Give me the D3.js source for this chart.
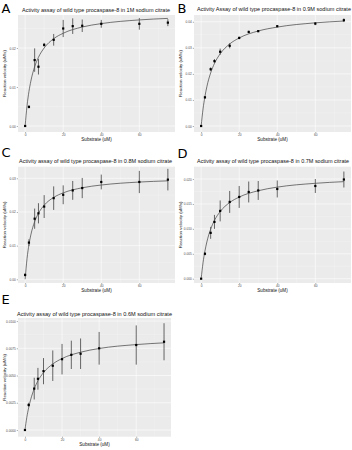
<!DOCTYPE html>
<html>
<head>
<meta charset="utf-8">
<script src="https://cdn.jsdelivr.net/npm/d3@7"></script>
<style>
  body { margin: 0; background: #fff; }
  svg { display: block; font-family: "Liberation Sans", Arial, sans-serif; }
</style>
</head>
<body>
<svg id="chart" width="352" height="450"></svg>
<script>
// substrate concentrations (uM) used in every assay
var substrate = [0, 2, 5, 7, 10, 15, 20, 25, 30, 40, 60, 75];

// mean reaction velocity (uM/s) and error bar half-widths, one pair per panel
var velocityA = [0, 0.0049, 0.0169, 0.0152, 0.0208, 0.0221, 0.0250, 0.0256, 0.0257, 0.0262, 0.0262, 0.0265];
var errorA    = [0, 0.0004, 0.0030, 0.0020, 0.0005, 0.0015, 0.0022, 0.0020, 0.0016, 0.0010, 0.0015, 0.0009];
var velocityB = [0, 0.0110, 0.0218, 0.0249, 0.0285, 0.0308, 0.0338, 0.0361, 0.0364, 0.0383, 0.0393, 0.0406];
var errorB    = [0, 0.0005, 0.0007, 0.0008, 0.0012, 0.0010, 0.0005, 0.0005, 0.0004, 0.0004, 0.0006, 0.0007];
var velocityC = [0.0013, 0.0109, 0.0180, 0.0196, 0.0216, 0.0241, 0.0251, 0.0264, 0.0271, 0.0289, 0.0289, 0.0296];
var errorC    = [0.0005, 0.0010, 0.0030, 0.0030, 0.0034, 0.0035, 0.0028, 0.0028, 0.0030, 0.0022, 0.0033, 0.0032];
var velocityD = [0, 0.0050, 0.0092, 0.0114, 0.0136, 0.0154, 0.0164, 0.0174, 0.0177, 0.0180, 0.0186, 0.0199];
var errorD    = [0, 0.0003, 0.0012, 0.0014, 0.0021, 0.0022, 0.0022, 0.0021, 0.0019, 0.0017, 0.0014, 0.0016];
var velocityE = [0, 0.0023, 0.0038, 0.0047, 0.0054, 0.0059, 0.0065, 0.0069, 0.0070, 0.0075, 0.0078, 0.0081];
var errorE    = [0, 0.0002, 0.0010, 0.0010, 0.0012, 0.0014, 0.0014, 0.0013, 0.0014, 0.0015, 0.0018, 0.0017];

// fitted curves
var fitSubstrate = [0, 1, 2, 3, 5, 7, 10, 15, 20, 30, 40, 60, 75];
var fitA = [0, 0.00520, 0.00883, 0.01150, 0.01520, 0.01762, 0.02001, 0.02238, 0.02378, 0.02538, 0.02625, 0.02720, 0.02759];
var fitB = [0, 0.00653, 0.01135, 0.01505, 0.02037, 0.02400, 0.02770, 0.03148, 0.03379, 0.03646, 0.03796, 0.03959, 0.04028];
var fitC = [0, 0.00616, 0.01027, 0.01320, 0.01711, 0.01960, 0.02200, 0.02432, 0.02567, 0.02718, 0.02800, 0.02888, 0.02924];
var fitD = [0, 0.00321, 0.00556, 0.00736, 0.00993, 0.01169, 0.01347, 0.01528, 0.01638, 0.01765, 0.01837, 0.01914, 0.01947];
var fitE = [0, 0.00116, 0.00204, 0.00274, 0.00378, 0.00451, 0.00527, 0.00606, 0.00656, 0.00714, 0.00748, 0.00784, 0.00800];

var letters = ["A", "B", "C", "D", "E"];
var titles = [
  "Activity assay of wild type procaspase-8 in 1M sodium citrate",
  "Activity Assay of wild type procaspase-8 in 0.9M sodium citrate",
  "Activity assay of wild type procaspase-8 in 0.8M sodium citrate",
  "Activity assay of wild type procaspase-8 in 0.7M sodium citrate",
  "Activity assay of wild type procaspase-8 in 0.6M sodium citrate"
];
var xTicks = [0, 20, 40, 60];
var yTicksA = [0, 0.01, 0.02];
var yTicksB = [0, 0.01, 0.02, 0.03, 0.04];
var yTicksC = [0, 0.01, 0.02, 0.03];
var yTicksD = [0, 0.005, 0.010, 0.015, 0.020];
var yTicksE = [0, 0.0025, 0.0050, 0.0075, 0.0100];
var yFormats = [".2f", ".2f", ".2f", ".3f", ".4f"];

// layout of each panel: cell origin, plot box, y domain, title extent
var panels = [
  {ox: 0,   oy: 0,   top: 15,   bottom: 132,   right: 175, yDom: [-0.00154, 0.02846], title: [22, 170], ty: 11.5, ly: 12.5,
   v: velocityA, e: errorA, fit: fitA, ticks: yTicksA},
  {ox: 176, oy: 0,   top: 15,   bottom: 132,   right: 175, yDom: [-0.0023, 0.0426], title: [21, 175], ty: 11, ly: 12.5,
   v: velocityB, e: errorB, fit: fitB, ticks: yTicksB},
  {ox: 0,   oy: 145, top: 21.7, bottom: 138,   right: 175, yDom: [-0.0011, 0.03344], title: [19, 172], ty: 17.5, ly: 12,
   v: velocityC, e: errorC, fit: fitC, ticks: yTicksC},
  {ox: 176, oy: 145, top: 21.7, bottom: 138,   right: 175, yDom: [-0.00086, 0.02247], title: [21, 173], ty: 18, ly: 12.5,
   v: velocityD, e: errorD, fit: fitD, ticks: yTicksD},
  {ox: 0,   oy: 295, top: 23,   bottom: 141.7, right: 171, yDom: [-0.000615, 0.01028], title: [17, 172], ty: 21, ly: 9,
   v: velocityE, e: errorE, fit: fitE, ticks: yTicksE}
];

var svg = d3.select("#chart");
var left = 18;

panels.forEach(function(p, i) {
  var g = svg.append("g").attr("transform", "translate(" + p.ox + "," + p.oy + ")");

  var x = d3.scaleLinear().domain([-3.75, 78.75]).range([left, p.right]);
  var y = d3.scaleLinear().domain(p.yDom).range([p.bottom, p.top]);

  // panel background
  g.append("rect")
    .attr("x", left).attr("y", p.top)
    .attr("width", p.right - left).attr("height", p.bottom - p.top)
    .attr("fill", "#ebebeb");

  // minor grid
  var step = p.ticks[1] - p.ticks[0];
  var yMinor = p.ticks.map(function(t) { return t + step / 2; })
    .filter(function(t) { return t < p.yDom[1]; });
  g.selectAll(".ymin").data(yMinor).enter().append("line")
    .attr("x1", left).attr("x2", p.right)
    .attr("y1", function(d) { return y(d); }).attr("y2", function(d) { return y(d); })
    .attr("stroke", "#f7f7f7").attr("stroke-width", 0.3);
  g.selectAll(".xmin").data([10, 30, 50, 70]).enter().append("line")
    .attr("y1", p.top).attr("y2", p.bottom)
    .attr("x1", function(d) { return x(d); }).attr("x2", function(d) { return x(d); })
    .attr("stroke", "#f7f7f7").attr("stroke-width", 0.3);

  // major grid
  g.selectAll(".ymaj").data(p.ticks).enter().append("line")
    .attr("x1", left).attr("x2", p.right)
    .attr("y1", function(d) { return y(d); }).attr("y2", function(d) { return y(d); })
    .attr("stroke", "#fff").attr("stroke-width", 0.6);
  g.selectAll(".xmaj").data(xTicks).enter().append("line")
    .attr("y1", p.top).attr("y2", p.bottom)
    .attr("x1", function(d) { return x(d); }).attr("x2", function(d) { return x(d); })
    .attr("stroke", "#fff").attr("stroke-width", 0.6);

  // axes
  var fmt = d3.format(yFormats[i]);
  var yAxis = g.append("g").attr("transform", "translate(" + left + ",0)")
    .call(d3.axisLeft(y).tickValues(p.ticks).tickFormat(fmt).tickSize(1.2).tickPadding(1));
  var xAxis = g.append("g").attr("transform", "translate(0," + p.bottom + ")")
    .call(d3.axisBottom(x).tickValues(xTicks).tickSize(1.2).tickPadding(1));
  [xAxis, yAxis].forEach(function(a) {
    a.select(".domain").remove();
    a.selectAll("line").attr("stroke", "#333").attr("stroke-width", 0.4);
    a.selectAll("text").attr("font-size", "3.2px").attr("fill", "#4d4d4d")
      .attr("font-family", "Liberation Sans, Arial, sans-serif");
  });

  // axis titles
  g.append("text")
    .attr("x", (left + p.right) / 2).attr("y", p.bottom + 9)
    .attr("text-anchor", "middle").attr("font-size", "4.6px").attr("fill", "#111")
    .text("Substrate (uM)");
  g.append("text")
    .attr("transform", "translate(6," + ((p.top + p.bottom) / 2) + ") rotate(-90)")
    .attr("text-anchor", "middle").attr("font-size", "4.4px").attr("fill", "#111")
    .text("Reaction velocity (uM/s)");

  // title and panel letter
  g.append("text")
    .attr("x", p.title[0]).attr("y", p.ty)
    .attr("font-size", "5.2px").attr("fill", "#111")
    .attr("textLength", p.title[1] - p.title[0]).attr("lengthAdjust", "spacingAndGlyphs")
    .text(titles[i]);
  g.append("text")
    .attr("x", 1.5).attr("y", p.ly)
    .attr("font-size", "13px").attr("font-family", "DejaVu Sans, sans-serif").attr("fill", "#000")
    .text(letters[i]);

  // fitted curve
  var line = d3.line()
    .x(function(d, j) { return x(fitSubstrate[j]); })
    .y(function(d) { return y(d); })
    .curve(d3.curveMonotoneX);
  g.append("path").datum(p.fit)
    .attr("d", line).attr("fill", "none")
    .attr("stroke", "#222").attr("stroke-width", 0.6);

  // error bars
  g.selectAll(".err").data(p.v).enter().append("line")
    .attr("x1", function(d, j) { return x(substrate[j]); })
    .attr("x2", function(d, j) { return x(substrate[j]); })
    .attr("y1", function(d, j) { return y(d - p.e[j]); })
    .attr("y2", function(d, j) { return y(d + p.e[j]); })
    .attr("stroke", "#555").attr("stroke-width", 0.9);

  // points
  g.selectAll(".pt").data(p.v).enter().append("rect")
    .attr("x", function(d, j) { return x(substrate[j]) - 1.1; })
    .attr("y", function(d) { return y(d) - 1.1; })
    .attr("width", 2.2).attr("height", 2.2)
    .attr("fill", "#000");
});
</script>
</body>
</html>
